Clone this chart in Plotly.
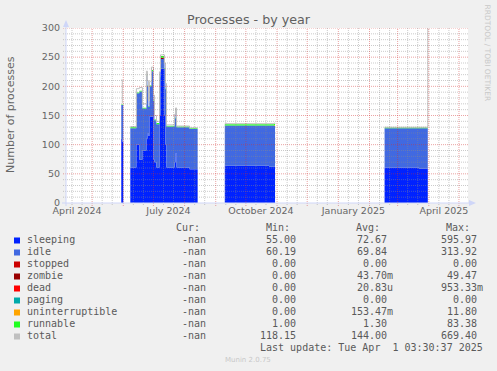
import plotly.graph_objects as go
import pandas as pd

# ---------------- data ----------------
dates = [
    "2024-05-30", "2024-05-31", "2024-06-01", "2024-06-02",
    "2024-06-08", "2024-06-14", "2024-06-17", "2024-06-20", "2024-06-24",
    "2024-06-25", "2024-06-26", "2024-06-27", "2024-06-29", "2024-07-01",
    "2024-07-02", "2024-07-04", "2024-07-07", "2024-07-08", "2024-07-12",
    "2024-07-13", "2024-07-14", "2024-07-22", "2024-07-23", "2024-07-24",
    "2024-08-06", "2024-08-14", "2024-08-15",
    "2024-09-10", "2024-10-24", "2024-10-29", "2024-10-30", "2024-10-31",
    "2025-02-16", "2025-03-22", "2025-03-31", "2025-04-01",
]
sleeping = [110, 105, 0, 0,
            61, 100, 74, 90, 110, 120, 115, 148, 148, 74, 70, 61, 150, 230, 150,
            100, 61, 70, 85, 61, 58, 0, 0,
            64, 62, 62, 0, 0,
            61, 59, 0, 0]
idle = [58, 63, 0, 0,
        67, 88, 117, 72, 108, 80, 50, 52, 78, 101, 72, 74, 65, 17, 80,
        95, 70, 75, 73, 69, 69, 0, 0,
        69, 71, 70, 0, 0,
        67, 69, 0, 0]
stopped = [0] * 36
zombie = [0, 0, 0, 0,
          0, 0, 0, 0, 0, 0, 0, 0, 0, 0, 0, 0, 0, 2, 0,
          0, 0, 0, 0, 0, 0, 0, 0,
          0, 0, 0, 0, 0,
          0, 0, 0, 0]
dead = [0] * 36
paging = [0] * 36
uninterruptible = [0, 0, 0, 0,
                   0, 0, 0, 0, 0, 0, 0, 0, 0, 0, 0, 0, 0, 0, 0,
                   0, 0, 0, 0, 0, 0, 0, 0,
                   0, 0, 1.5, 0, 0,
                   0, 0, 0, 0]
runnable = [1, 1, 0, 0,
            2, 1.3, 1.3, 1.3, 1.3, 1.3, 1.3, 1.3, 2, 1.3, 1.3, 2, 1.3, 3, 1.3,
            1.3, 1.3, 1.3, 1.3, 1.3, 1.3, 0, 0,
            2, 2, 2, 0, 0,
            1.3, 1.3, 0, 0]
total = [211, 172, 172, None,
         131, 196, 198, 170, 226, 210, 175, 208, 233, 185, 150, 140, 225, 254, 240,
         205, 134, 152, 163, 132, 129, 129, None,
         136, 136, 137, 136, None,
         130, 130, 669.4, None]

series_names = ["sleeping", "idle", "stopped", "zombie", "dead", "paging",
                "uninterruptible", "runnable", "total"]
series_colors = ["#0022ff", "#4169e1", "#cc0000", "#990000", "#ff0000",
                 "#00aaaa", "#ffa500", "#22ff22", "#c0c0c0"]
cur_vals = ["-nan"] * 9
min_vals = ["55.00", "60.19", "0.00", "0.00", "0.00", "0.00", "0.00", "1.00", "118.15"]
avg_vals = ["72.67", "69.84", "0.00", "43.70m", "20.83u", "0.00", "153.47m", "1.30", "144.00"]
max_vals = ["595.97", "313.92", "0.00", "49.47", "953.33m", "0.00", "11.80", "83.38", "669.40"]

tick_dates = ["2024-04-16", "2024-07-16", "2024-10-16", "2025-01-16", "2025-04-16"]
tick_labels = ["April 2024", "July 2024", "October 2024", "January 2025", "April 2025"]
y_ticks = [0, 50, 100, 150, 200, 250, 300]

X_START, X_END = "2024-04-05", "2025-05-10"

# ---------------- layout helpers ----------------
W, H = 497, 371
L, R, T, B = 66, 468, 28, 203
FONT = "DejaVu Sans"
MONO = "DejaVu Sans Mono"
TXT = "#5a5a5a"


def px(x):
    return (x - L) / (R - L)


def py(y):
    return (B - y) / (B - T)


fig = go.Figure()

stack_series = [sleeping, idle, stopped, zombie, dead, paging, uninterruptible, runnable]
for name, vals, col in zip(series_names[:8], stack_series, series_colors[:8]):
    fig.add_trace(go.Scatter(
        x=dates, y=vals, name=name, stackgroup="one", mode="lines",
        line=dict(width=0, shape="hv", color=col), fillcolor=col,
        hoverinfo="skip", showlegend=False))

fig.add_trace(go.Scatter(
    x=dates, y=total, name="total", mode="lines", connectgaps=False,
    line=dict(width=1, shape="hv", color=series_colors[8]),
    hoverinfo="skip", showlegend=False))

shapes = []
GRAY = "rgba(140,140,140,0.45)"
RED = "rgba(210,50,50,0.45)"
DASH = "1px,1px"

# horizontal grid
for v in range(10, 301, 10):
    col = RED if v % 50 == 0 else GRAY
    shapes.append(dict(type="line", xref="paper", yref="y", x0=px(63), x1=1,
                       y0=v, y1=v, layer="above",
                       line=dict(color=col, width=1, dash=DASH)))

# vertical grid
months = pd.date_range("2024-04-01", "2025-06-01", freq="MS")
x0d, x1d = pd.Timestamp(X_START), pd.Timestamp(X_END)
for m in months:
    for day, col, tick in [(1, RED, 3), (11, GRAY, 2), (21, GRAY, 2)]:
        d = m + pd.Timedelta(days=day - 1)
        if x0d < d < x1d:
            shapes.append(dict(type="line", xref="x", yref="paper",
                               x0=d, x1=d, y0=py(B + tick), y1=1, layer="above",
                               line=dict(color=col, width=1, dash=DASH)))

AX = "#CFD6F8"
shapes.append(dict(type="line", xref="paper", yref="paper", x0=px(66), x1=px(66),
                   y0=py(206), y1=py(24), layer="above", line=dict(color=AX, width=1)))
shapes.append(dict(type="line", xref="paper", yref="paper", x0=px(62), x1=px(471),
                   y0=py(203), y1=py(203), layer="above", line=dict(color=AX, width=1)))
shapes.append(dict(type="path", xref="paper", yref="paper", layer="above",
                   path=f"M {px(63)},{py(27)} L {px(66)},{py(20)} L {px(69)},{py(27)} Z",
                   fillcolor=AX, line=dict(color=AX, width=0)))
shapes.append(dict(type="path", xref="paper", yref="paper", layer="above",
                   path=f"M {px(469)},{py(200)} L {px(476)},{py(203)} L {px(469)},{py(206)} Z",
                   fillcolor=AX, line=dict(color=AX, width=0)))

annotations = []


def ann(text, x, y, xanchor="left", size=10, family=MONO, color=TXT, angle=0):
    annotations.append(dict(text=text, x=px(x), y=py(y), xref="paper", yref="paper",
                            xanchor=xanchor, yanchor="middle", showarrow=False,
                            textangle=angle, borderpad=0, borderwidth=0,
                            font=dict(family=family, size=size, color=color)))


# legend header
ann("Cur:", 199.5, 227.5, "right")
ann("Min:", 289.5, 227.5, "right")
ann("Avg:", 380, 227.5, "right")
ann("Max:", 470, 227.5, "right")

NB = "\u00a0"
for i, name in enumerate(series_names):
    yc = 239.5 + 12 * i
    shapes.append(dict(type="rect", xref="paper", yref="paper",
                       x0=px(14), x1=px(20), y0=py(yc + 4), y1=py(yc - 2),
                       fillcolor=series_colors[i], line=dict(width=0)))
    ann(name, 26.5, yc)
    ann(cur_vals[i], 206, yc, "right")
    ann(min_vals[i], 296, yc, "right")
    a = avg_vals[i]
    ann(a if a[-1].isalpha() else a + NB, 392.5, yc, "right")
    m = max_vals[i]
    ann(m if m[-1].isalpha() else m + NB, 482.5, yc, "right")

ann("Last update: Tue Apr" + NB + NB + "1 03:30:37 2025", 482.5, 347.5, "right")
ann("Munin 2.0.75", 248, 359.5, "center", size=7, family=FONT, color="#c8c8c8")
ann("RRDTOOL / TOBI OETIKER", 487.5, 53, "center", size=7.5, family=FONT,
    color="#c8c8c8", angle=90)
ann("Number of processes", 10.5, 114.5, "center", size=11, family=FONT,
    color="#666666", angle=-90)

fig.update_layout(
    width=W, height=H,
    margin=dict(l=L, r=W - R, t=T, b=H - B, pad=0),
    paper_bgcolor="#F0F0F0", plot_bgcolor="#FFFFFF",
    title=dict(text="Processes - by year", x=0.5, xref="container",
               y=1 - 19.5 / H, yref="container", xanchor="center", yanchor="middle",
               font=dict(family=FONT, size=12.7, color="#606060")),
    xaxis=dict(type="date", range=[X_START, X_END], tickvals=tick_dates,
               ticktext=tick_labels, showgrid=False, zeroline=False, showline=False,
               ticks="", tickfont=dict(family=FONT, size=9.5, color="#666666")),
    yaxis=dict(range=[0, 300], tickvals=y_ticks, showgrid=False, zeroline=False,
               showline=False, ticks="", ticklabelstandoff=5,
               tickfont=dict(family=FONT, size=9.5, color="#666666")),
    shapes=shapes, annotations=annotations, showlegend=False, hovermode=False,
)

fig.write_html(
    "out.html",
    config={"displayModeBar": False, "staticPlot": True},
    post_script="document.body.style.margin='0';document.body.style.overflow='hidden';",
)
